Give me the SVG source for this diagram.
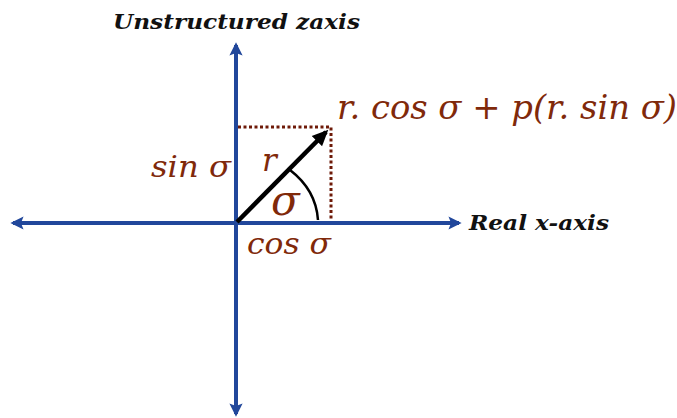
<svg xmlns="http://www.w3.org/2000/svg" width="677" height="418" viewBox="0 0 677 418">
<style>
.ax{stroke:#21479b;stroke-width:4;fill:none}
.dot{stroke:#6e1a08;stroke-width:3;stroke-dasharray:3 2.5;fill:none}
.lbl{font-family:"DejaVu Serif","Liberation Serif",serif;font-style:italic;font-weight:bold;fill:#111}
.m{font-family:"DejaVu Serif","Liberation Serif",serif;font-style:italic;fill:#80290a}
</style>
<defs>
<marker id="ah" viewBox="0 0 10 10" refX="8" refY="5" markerWidth="3.3" markerHeight="3.3" orient="auto-start-reverse" markerUnits="strokeWidth">
<path d="M0,0 L10,5 L0,10 L2,5 Z" fill="#21479b"/>
</marker>
<marker id="bk" viewBox="0 0 10 10" refX="8" refY="5" markerWidth="3.6" markerHeight="3.6" orient="auto" markerUnits="strokeWidth">
<path d="M0,0.5 L10,5 L0,9.5 Z" fill="#000"/>
</marker>
</defs>
<g id="connectors">
<line class="ax" x1="236" y1="414" x2="236" y2="45" marker-start="url(#ah)" marker-end="url(#ah)"/>
<line class="ax" x1="13" y1="223" x2="459" y2="223" marker-start="url(#ah)" marker-end="url(#ah)"/>
<polyline class="dot" points="238,127 331,127 331,221"/>
<line x1="237" y1="222" x2="326" y2="132" stroke="#000" stroke-width="4.5" marker-end="url(#bk)"/>
<path d="M290,170 Q316,190 318,220" stroke="#000" stroke-width="2.5" fill="none"/>
</g>
<g id="yaxis-label"><text class="lbl" x="113" y="29" font-size="21" textLength="247" lengthAdjust="spacingAndGlyphs">Unstructured zaxis</text></g>
<g id="xaxis-label"><text class="lbl" x="469" y="230" font-size="20" textLength="140" lengthAdjust="spacingAndGlyphs">Real x-axis</text></g>
<g id="point-label"><text class="m" x="337" y="119" font-size="33" textLength="340" lengthAdjust="spacingAndGlyphs">r. cos σ + p(r. sin σ)</text></g>
<g id="sin-label"><text class="m" x="151" y="177" font-size="30" textLength="80" lengthAdjust="spacingAndGlyphs">sin σ</text></g>
<g id="r-label"><text class="m" x="262" y="171" font-size="31">r</text></g>
<g id="sigma-label"><text class="m" x="271" y="215" font-size="42">σ</text></g>
<g id="cos-label"><text class="m" x="247" y="254" font-size="30" textLength="84" lengthAdjust="spacingAndGlyphs">cos σ</text></g>
</svg>
